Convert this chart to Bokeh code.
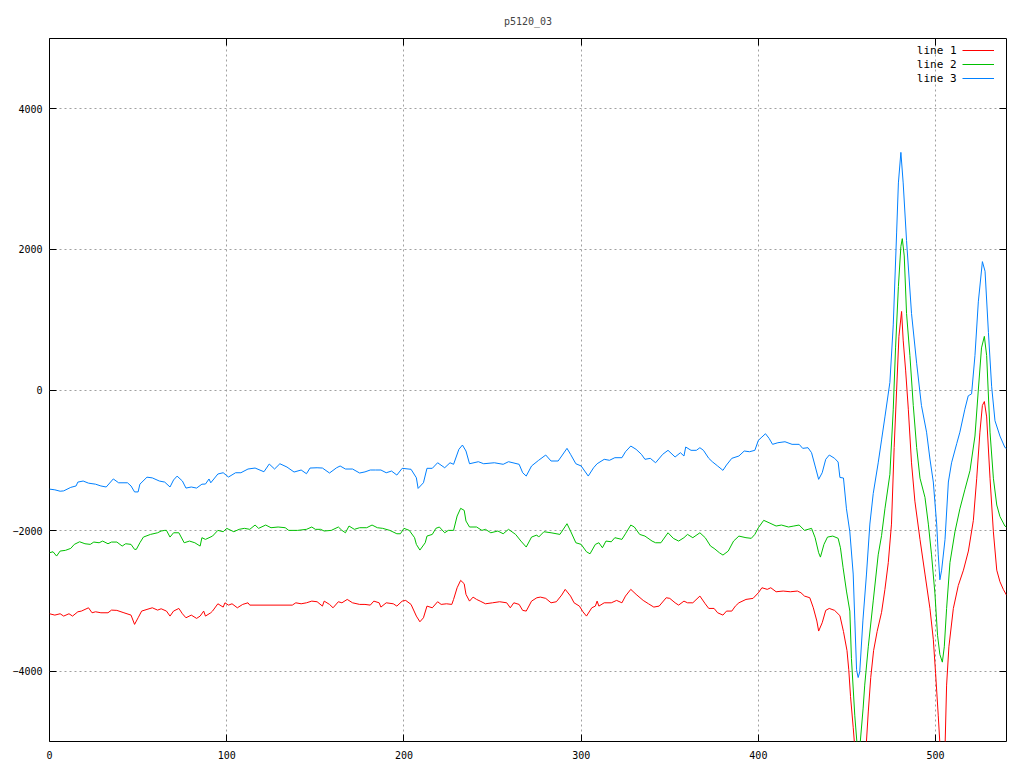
from bokeh.plotting import figure
from bokeh.models import Range1d, FixedTicker, LinearAxis, Legend, LegendItem, Label, CustomJSTickFormatter
from bokeh.embed import file_html
from bokeh.resources import INLINE

title_text = "p5120_03"
series_names = ["line 1", "line 2", "line 3"]
series_colors = ["#ff0000", "#00c000", "#0080ff"]
x_ticks = [0, 100, 200, 300, 400, 500]
y_ticks = [-4000, -2000, 0, 2000, 4000]

line1_x = [0, 3, 6, 8, 11, 13, 16, 18, 22, 24, 26, 29, 33, 35, 38, 42, 46, 48, 50, 52, 55, 58, 61, 63, 66, 68, 70, 73, 75, 77,
           80, 83, 85, 87, 88, 91, 92, 95, 98, 99, 101, 103, 106, 109, 112, 113, 137, 139, 142, 145, 148, 151, 154, 155, 158,
           160, 163, 165, 168, 171, 175, 178, 181, 183, 186, 187, 190, 194, 196, 199, 201, 204, 207, 209, 211, 213, 216, 219,
           221, 224, 227, 228, 230, 232, 234, 235, 237, 239, 241, 243, 246, 250, 254, 258, 260, 262, 265, 267, 269, 272, 275,
           277, 280, 283, 286, 289, 291, 294, 296, 299, 301, 303, 306, 308, 309, 310, 313, 317, 320, 323, 325, 328, 331, 335,
           338, 341, 344, 348, 350, 353, 355, 358, 360, 363, 367, 370, 372, 375, 377, 380, 382, 385, 387, 389, 393, 397, 400,
           402, 405, 407, 410, 414, 418, 422, 424, 426, 429, 431, 433, 434, 436, 438, 440, 443, 446, 448, 450, 451, 452, 453.5,
           456, 458, 460, 462, 463.4, 465, 467, 469.5, 471.4, 473.3, 475.1, 476.6, 478, 479.3, 480.8, 481.7, 483.1, 484.6,
           486.4, 488.3, 491.2, 494, 496.8, 498.7, 500, 501.5, 503.5, 505, 506.2, 507.5, 510, 512.8, 515.7, 518.5, 521.3,
           523.2, 525, 526.4, 527.5, 528.8, 530.7, 532.6, 534.5, 536.3, 538.2, 540]
line1_y = [-3183, -3202, -3183, -3216, -3183, -3216, -3155, -3145, -3098, -3169, -3155, -3169, -3169, -3131, -3135, -3169,
           -3202, -3334, -3240, -3145, -3121, -3098, -3131, -3112, -3145, -3216, -3145, -3107, -3183, -3240, -3202, -3249,
           -3216, -3145, -3216, -3169, -3145, -3041, -3088, -3027, -3060, -3041, -3098, -3050, -3027, -3060, -3060, -3027,
           -3041, -3027, -3003, -3012, -3074, -3003, -3050, -3098, -3012, -3027, -2979, -3027, -3050, -3050, -3060, -3003,
           -3027, -3088, -3027, -3041, -3074, -3003, -2993, -3050, -3216, -3297, -3240, -3074, -3098, -3012, -3050, -3041,
           -3050, -2979, -2813, -2708, -2756, -2907, -3003, -2946, -2979, -3003, -3041, -3027, -3012, -3027, -3098, -3027,
           -3050, -3135, -3145, -3003, -2955, -2946, -2964, -3027, -3012, -2917, -2836, -2931, -3027, -3074, -3155, -3216,
           -3098, -3074, -3003, -3074, -3027, -3027, -2993, -3027, -2931, -2836, -2907, -2993, -3041, -3088, -3074, -2955,
           -2964, -3027, -3060, -3003, -3027, -3027, -2931, -3041, -3107, -3107, -3169, -3202, -3145, -3145, -3074, -3027,
           -2979, -2964, -2884, -2813, -2836, -2813, -2870, -2860, -2870, -2860, -2884, -2931, -2955, -3098, -3287, -3429,
           -3311, -3135, -3107, -3135, -3210, -3435, -3708, -3980, -4361, -4798, -5600, -5800, -5400, -4580, -4090, -3708,
           -3435, -3163, -2836, -2455, -1908, -818, 0, 763, 1117, 709, 272, -273, -1036, -1581, -2127, -2618, -3108, -3545,
           -4036, -4635, -5500, -5400, -4198, -3653, -3108, -2781, -2563, -2291, -1854, -1255, -600, -219, -164, -383, -1255,
           -2018, -2563, -2727, -2836, -2917]

line2_x = [0, 2, 4, 6, 9, 12, 14, 17, 20, 23, 25, 28, 30, 33, 35, 38, 41, 43, 46, 48, 49, 51, 53, 57, 61, 63, 65, 66, 68, 70,
           73, 76, 79, 82, 85, 86, 88, 92, 95, 98, 100, 104, 107, 110, 113, 116, 118, 122, 125, 129, 133, 135, 140, 145, 148,
           150, 153, 155, 159, 163, 165, 167, 169, 172, 175, 179, 182, 185, 188, 192, 196, 198, 200, 203, 206, 207, 209, 212,
           213, 216, 218, 220, 223, 225, 228, 230, 232, 234, 235, 237, 241, 244, 246, 249, 253, 256, 259, 263, 266, 269, 272,
           275, 276, 279, 283, 288, 292, 294, 297, 300, 303, 305, 308, 310, 312, 314, 317, 319, 323, 325, 328, 330, 333, 336,
           340, 342, 345, 349, 352, 355, 358, 360, 363, 367, 370, 373, 375, 378, 380, 383, 386, 389, 393, 396, 398, 400, 403,
           406, 410, 413, 417, 420, 423, 426, 430, 432, 434, 435, 437, 439, 442, 445, 446.3, 447.8, 449.7, 451.6, 452.5,
           454.4, 456.5, 459.1, 460, 462, 464.8, 467.6, 469.5, 471.4, 474.2, 476.1, 477.4, 479, 480.4, 481.2, 482.3, 483.6,
           485.5, 487.4, 489.3, 491.2, 494, 495.9, 497.7, 499.6, 501.1, 502.4, 503.8, 504.9, 506.2, 508.1, 510.9, 513.7,
           516.5, 519.4, 522.2, 524.1, 525.9, 527.5, 528.8, 530.7, 532.6, 534.5, 536.3, 539.1, 540]
line2_y = [-2315, -2301, -2362, -2291, -2281, -2253, -2196, -2159, -2187, -2196, -2163, -2173, -2149, -2187, -2163, -2163,
           -2220, -2187, -2196, -2267, -2267, -2173, -2092, -2054, -2031, -2006, -1997, -1997, -2092, -2031, -2031, -2173,
           -2149, -2173, -2220, -2101, -2125, -2078, -1997, -2016, -1968, -2016, -1982, -1968, -1982, -1921, -1968, -1921,
           -1959, -1949, -1959, -1997, -1997, -1982, -1949, -1982, -1982, -2006, -1997, -1949, -1997, -2031, -1935, -1982,
           -1959, -1959, -1921, -1959, -1968, -1997, -2045, -2045, -1968, -1997, -2101, -2196, -2277, -2173, -2078, -2054,
           -1968, -1949, -2031, -1997, -1997, -1793, -1683, -1712, -1864, -1949, -1949, -1997, -1982, -2031, -2006, -2045,
           -1982, -2054, -2149, -2234, -2092, -2063, -2092, -2016, -2031, -2054, -1902, -2006, -2173, -2196, -2301, -2330,
           -2196, -2173, -2244, -2149, -2159, -2101, -2125, -2045, -1921, -1949, -2054, -2078, -2149, -2173, -2173, -2031,
           -2110, -2149, -2101, -2054, -2101, -2031, -2101, -2220, -2253, -2315, -2348, -2291, -2149, -2078, -2101, -2110,
           -2054, -1959, -1854, -1888, -1935, -1921, -1949, -1935, -1921, -1997, -1968, -2101, -2315, -2377, -2196, -2092,
           -2078, -2110, -2244, -2529, -2860, -3145, -3817, -4635, -5300, -4525, -4198, -3653, -3000, -2345, -2072, -1690,
           -1200, -273, 599, 1471, 2043, 2153, 1907, 1090, 489, -219, -818, -1255, -1527, -1908, -2345, -2890, -3490, -3762,
           -3871, -3653, -3108, -2455, -2018, -1690, -1419, -1146, -655, 0, 599, 763, 489, -600, -1255, -1636, -1800, -1935,
           -1950]

line3_x = [0, 3, 6, 8, 12, 15, 16, 19, 22, 26, 29, 32, 36, 39, 44, 46, 48, 50, 51, 55, 58, 62, 65, 68, 70, 72, 75, 77, 80,
           83, 86, 88, 90, 91, 95, 98, 101, 105, 108, 112, 116, 121, 124, 127, 130, 134, 138, 142, 145, 147, 151, 154, 158,
           162, 164, 167, 171, 175, 178, 181, 184, 187, 190, 193, 196, 199, 204, 207, 208, 211, 213, 216, 219, 223, 226, 228,
           231, 233, 235, 237, 242, 245, 251, 256, 259, 265, 267, 269, 272, 276, 280, 283, 287, 289, 292, 294, 297, 300, 304,
           307, 309, 313, 316, 319, 323, 325, 328, 331, 334, 336, 339, 342, 346, 349, 353, 356, 358, 359, 362, 365, 367, 369,
           372, 374, 377, 380, 382, 385, 389, 392, 395, 398, 400, 402, 404, 406, 408, 411, 415, 419, 423, 425, 428, 430, 432,
           434, 436, 438, 440, 443, 445, 446, 448, 449.7, 451.6, 453.5, 454.4, 455.4, 456.3, 457.2, 459, 461, 462.9, 464.8,
           467.6, 469.5, 471.4, 474.2, 476.1, 478, 479, 480.4, 481.7, 483.6, 486.4, 489.3, 492, 494.9, 496.8, 498.7, 500.6,
           501.5, 502.4, 503.4, 505.3, 507.2, 509, 511.9, 513.7, 516.5, 518.4, 520.3, 522.2, 524.1, 526.4, 527.9, 529.8,
           531.6, 533.5, 536.3, 539.1, 540]
line3_y = [-1410, -1420, -1440, -1435, -1385, -1365, -1310, -1295, -1325, -1340, -1365, -1380, -1265, -1320, -1320, -1365,
           -1450, -1450, -1340, -1240, -1250, -1295, -1310, -1380, -1280, -1225, -1295, -1395, -1380, -1395, -1340, -1338,
           -1266, -1320, -1195, -1177, -1238, -1177, -1177, -1124, -1110, -1163, -1053, -1124, -1049, -1096, -1167, -1138,
           -1191, -1110, -1106, -1110, -1181, -1106, -1081, -1124, -1124, -1181, -1165, -1138, -1138, -1138, -1177, -1153,
           -1210, -1114, -1128, -1248, -1400, -1319, -1114, -1114, -1035, -1106, -1035, -1057, -844, -783, -868, -1049,
           -1020, -1049, -1035, -1057, -1020, -1057, -1177, -1224, -1081, -1000, -925, -1010, -1010, -939, -830, -915,
           -1049, -1081, -1224, -1106, -1049, -986, -1000, -963, -963, -878, -797, -844, -915, -986, -972, -1035, -915, -858,
           -953, -892, -939, -811, -858, -858, -821, -858, -972, -1020, -1081, -1143, -1067, -972, -939, -868, -878, -858,
           -716, -669, -622, -687, -773, -750, -736, -773, -773, -830, -821, -892, -1081, -1271, -1177, -986, -925, -972,
           -1025, -1244, -1252, -1690, -2018, -2618, -3273, -3980, -4090, -4008, -3273, -2618, -1907, -1473, -1036, -710,
           -383, 108, 926, 2234, 2946, 3380, 2946, 2126, 1090, 381, -219, -600, -982, -1309, -1908, -2345, -2700, -2563,
           -2127, -1309, -1036, -764, -600, -273, -83, -55, 489, 1254, 1826, 1689, 817, 54, -437, -655, -818, -830]

FONT = "DejaVu Sans Mono"

p = figure(width=1016, height=764, x_range=Range1d(0, 540), y_range=Range1d(-5000, 5000),
           output_backend="svg", toolbar_location=None,
           min_border_left=49, min_border_right=10, min_border_top=38, min_border_bottom=23)
p.background_fill_color = "white"
p.border_fill_color = "white"
p.outline_line_color = "black"
p.outline_line_width = 1
p.outline_line_alpha = 1

p.title.text = title_text
p.title.align = "center"
p.title.text_font = FONT
p.title.text_font_size = "10px"
p.title.text_font_style = "normal"
p.title.standoff = 23

for ax in (p.xaxis[0], p.yaxis[0]):
    ax.axis_line_color = None
    ax.major_tick_in = 7
    ax.major_tick_out = 0
    ax.minor_tick_line_color = None
    ax.major_tick_line_color = "black"
    ax.major_label_text_font = FONT
    ax.major_label_text_font_size = "10px"
    ax.major_label_text_color = "black"
p.xaxis[0].ticker = FixedTicker(ticks=x_ticks)
p.yaxis[0].ticker = FixedTicker(ticks=y_ticks)
p.xaxis[0].major_label_standoff = 9
p.yaxis[0].major_label_standoff = 7

# mirrored ticks on top and right (no labels)
blank = CustomJSTickFormatter(code="return ''")
top_ax = LinearAxis(ticker=FixedTicker(ticks=x_ticks), formatter=blank)
right_ax = LinearAxis(ticker=FixedTicker(ticks=y_ticks), formatter=blank)
for ax in (top_ax, right_ax):
    ax.axis_line_color = None
    ax.major_tick_in = 7
    ax.major_tick_out = 0
    ax.minor_tick_line_color = None
    ax.major_label_standoff = 0
p.add_layout(top_ax, "above")
p.add_layout(right_ax, "right")

p.xgrid.ticker = FixedTicker(ticks=x_ticks)
p.ygrid.ticker = FixedTicker(ticks=y_ticks)
for g in (p.xgrid[0], p.ygrid[0]):
    g.grid_line_color = "#a0a0a0"
    g.grid_line_dash = "2 3"
    g.grid_line_width = 1

series = [(line1_x, line1_y), (line2_x, line2_y), (line3_x, line3_y)]
renderers = []
for (xs, ys), col in zip(series, series_colors):
    renderers.append(p.line(xs, ys, line_color=col, line_width=1))

legend = Legend(items=[LegendItem(label="", renderers=[r]) for r in renderers],
                location=(913, 656))
legend.glyph_width = 32
legend.glyph_height = 14
legend.label_width = 0
legend.label_height = 14
legend.label_standoff = 0
legend.label_text_font_size = "11px"
legend.padding = 0
legend.margin = 0
legend.spacing = 0
legend.border_line_color = None
legend.background_fill_alpha = 0
p.add_layout(legend)

for i, name in enumerate(series_names):
    p.add_layout(Label(x=907, y=691 - 14 * i, x_units="screen", y_units="screen", text=name,
                       text_align="right", text_baseline="middle", text_font=FONT,
                       text_font_size="11px", text_color="black"))

open("out.html", "w").write(file_html(p, INLINE))
